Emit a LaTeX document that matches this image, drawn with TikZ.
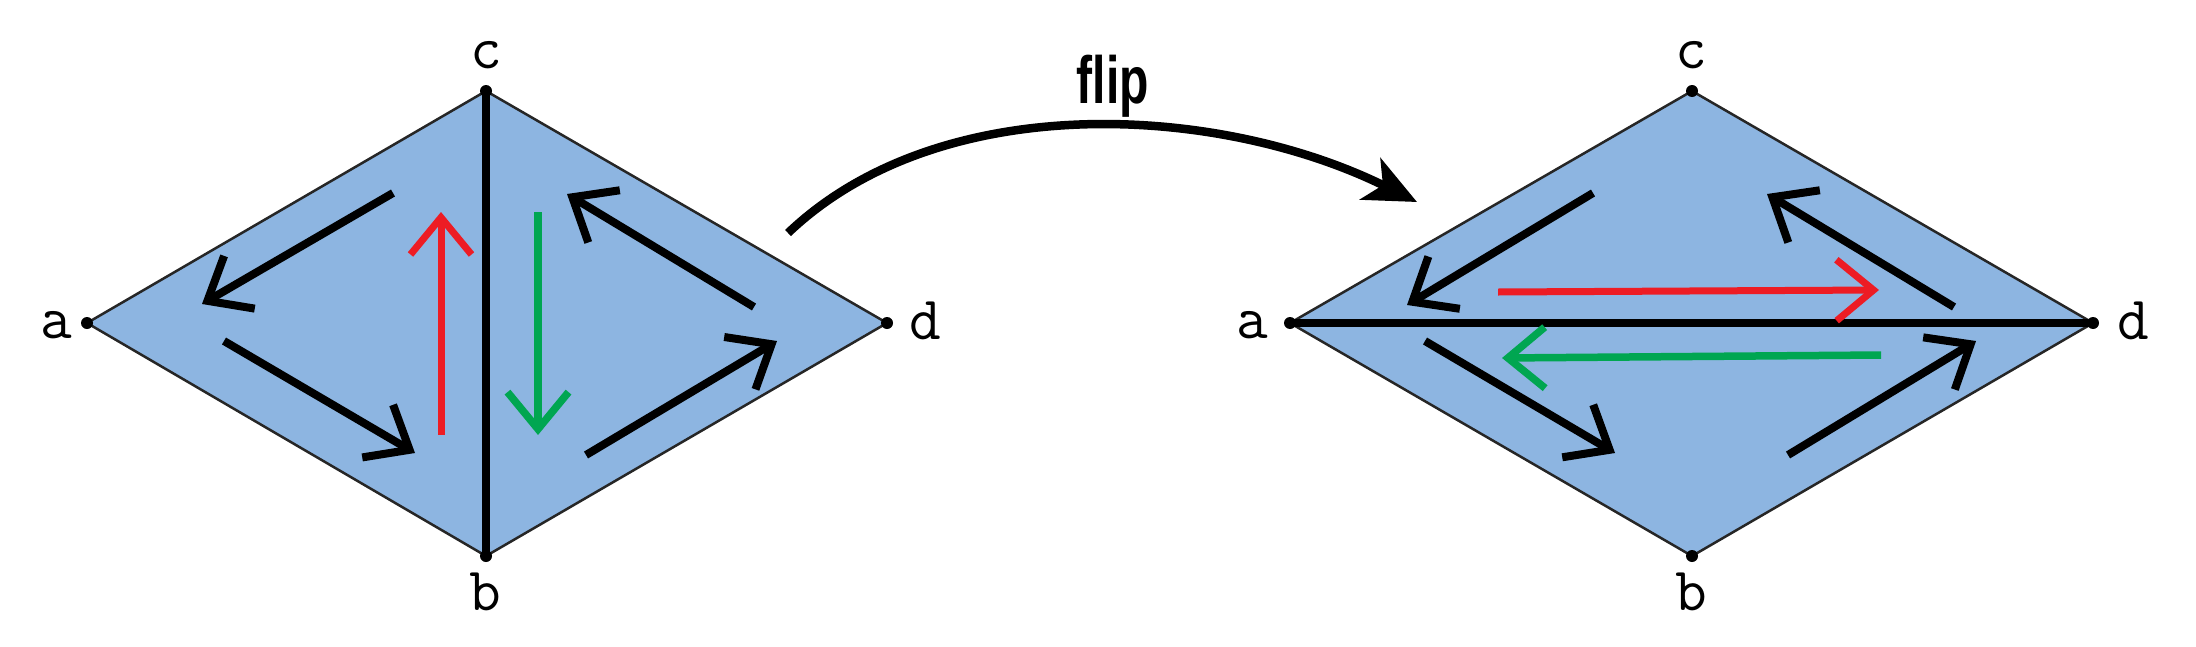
\documentclass[tikz,border=0pt]{standalone}
\usepackage{fontspec}
\newfontfamily\flipfont{Liberation Sans}[FakeStretch=0.72]
\usetikzlibrary{arrows.meta}
\definecolor{facefill}{RGB}{141,181,225}
\definecolor{arrred}{RGB}{237,28,36}
\definecolor{arrgreen}{RGB}{0,166,81}
\begin{document}
\begin{tikzpicture}[x=0.1mm,y=-0.1mm,
  face/.style={fill=facefill,draw=black!85,line width=0.25mm,line join=miter},
  diag/.style={draw=black,line width=0.8mm,line cap=butt},
  barb/.style={-{Straight Barb[length=3.7mm,width=6.1mm]}},
  blackarr/.style={barb,draw=black,line width=0.8mm},
  redarr/.style={barb,draw=arrred,line width=0.7mm},
  greenarr/.style={barb,draw=arrgreen,line width=0.75mm},
  vdot/.style={fill=black},
  lab/.style={anchor=base,inner sep=0pt,font=\fontsize{17.5}{20}\selectfont\ttfamily},
  fliparr/.style={draw=black,line width=0.85mm,-{Stealth[length=5.2mm,width=4.6mm,inset=1.4mm]}}
]
\useasboundingbox (0,0) rectangle (2196,646);

% left diamond
\coordinate (aL) at (87,323);
\coordinate (cL) at (486,91);
\coordinate (dL) at (887,323);
\coordinate (bL) at (486,556);
\draw[face] (aL) -- (cL) -- (dL) -- (bL) -- cycle;
\draw[diag] (cL) -- (bL);
\draw[blackarr] (393,193) -- (202,304);
\draw[blackarr] (224,341) -- (415,453);
\draw[blackarr] (754,307) -- (567,194);
\draw[blackarr] (586,455) -- (777,341);
\draw[redarr] (441,435) -- (441,212);
\draw[greenarr] (538,212) -- (538,435);
\foreach \p in {aL,cL,dL,bL} \fill[vdot] (\p) circle (6);
\node[lab] (laL) at (56,338) {a};
\node[lab] (lcL) at (486,68) {c};
\node[lab] (lbL) at (485,610) {b};
\node[lab] (ldL) at (925,339) {d};

% right diamond
\coordinate (aR) at (1290,323);
\coordinate (cR) at (1692,91);
\coordinate (dR) at (2093,323);
\coordinate (bR) at (1692,556);
\draw[face] (aR) -- (cR) -- (dR) -- (bR) -- cycle;
\draw[diag] (aR) -- (dR);
\draw[blackarr] (1593,193) -- (1407,305);
\draw[blackarr] (1425,341) -- (1615,453);
\draw[blackarr] (1954,307) -- (1767,194);
\draw[blackarr] (1788,455) -- (1976,341);
\draw[redarr] (1498,292) -- (1879,290);
\draw[greenarr] (1881,355) -- (1502,358);
\foreach \p in {aR,cR,dR,bR} \fill[vdot] (\p) circle (6);
\node[lab] (laR) at (1252,338) {a};
\node[lab] (lcR) at (1691,68) {c};
\node[lab] (lbR) at (1691,610) {b};
\node[lab] (ldR) at (2133,339) {d};

% flip arrow
\coordinate (fs) at (788,233);
\coordinate (ft) at (1417,202);
\draw[fliparr] (fs) .. controls (940,88) and (1219,104) .. (ft);
\node[anchor=base,inner sep=0pt,font=\flipfont\bfseries\fontsize{19}{21}\selectfont] (flip) at (1113,103) {flip};
\end{tikzpicture}
\end{document}
